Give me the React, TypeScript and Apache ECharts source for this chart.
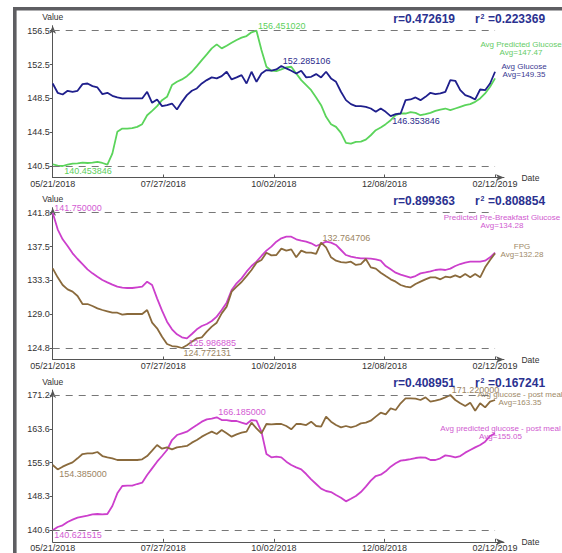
import React, { useEffect, useRef } from "react";
import * as echarts from "echarts";

// ---------- data ----------
const STEP_DAYS = 3; // one sample every 3 days, starting 05/21/2018
const dateTickLabels = ["05/21/2018", "07/27/2018", "10/02/2018", "12/08/2018", "02/12/2019"];
const dateTickDays = [0, 66.75, 133.5, 200.25, 267];

// Panel 1
const avgPredictedGlucose = [
  140.66, 140.5, 140.453846, 140.62, 140.73, 140.77, 140.85, 140.81, 140.85, 140.93,
  140.81, 140.62, 141.92, 144.49, 144.88, 144.88, 144.92, 145.08, 145.4, 146.46,
  146.97, 147.53, 148.24, 148.63, 150.02, 150.41, 150.69, 151.08, 151.6, 152.27,
  152.98, 153.65, 154.36, 154.84, 154.36, 154.68, 155.03, 155.35, 155.63, 155.82,
  156.26, 156.45102, 154.16, 152.19, 151.72, 151.68, 151.87, 152.11, 152.19, 151.4,
  150.61, 150.02, 149.42, 148.56, 147.65, 146.27, 145.4, 145.08, 144.37, 143.18,
  143.1, 143.3, 143.34, 143.58, 144.09, 144.69, 145.0, 145.4, 145.87, 146.46,
  146.66, 146.66, 146.82, 146.74, 146.46, 146.58, 146.74, 146.97, 147.13, 147.25,
  147.05, 147.25, 147.45, 147.65, 147.77, 148.04, 148.44, 149.03, 149.82, 150.81,
];
const avgGlucose = [
  150.21, 149.11, 148.91, 149.35, 149.23, 149.35, 150.13, 150.21, 149.9, 149.74,
  148.95, 149.11, 148.75, 148.56, 148.44, 148.44, 148.44, 148.44, 148.44, 149.23,
  147.92, 148.32, 147.53, 147.65, 147.84, 147.13, 148.04, 148.83, 149.35, 149.62,
  150.21, 150.61, 150.93, 150.81, 151.08, 151.6, 150.69, 150.93, 151.2, 150.21,
  151.6, 150.41, 151.4, 151.79, 151.72, 151.87, 152.285106, 151.99, 151.72, 151.4,
  151.72, 150.93, 151.0, 151.32, 150.93, 151.6, 150.81, 150.41, 149.23, 148.24,
  147.77, 147.53, 147.53, 147.45, 147.25, 146.86, 147.25, 146.86, 146.353846, 146.58,
  146.66, 148.24, 148.32, 148.56, 148.24, 148.63, 149.11, 148.95, 149.03, 149.23,
  150.61, 150.53, 149.42, 148.83, 148.63, 148.32, 149.5, 149.42, 150.21, 151.6,
];

// Panel 2
const predictedPreBreakfast = [
  141.75, 139.66, 138.41, 137.57, 136.65, 135.94, 135.31, 134.64, 134.14, 133.72,
  133.31, 133.01, 132.72, 132.47, 132.34, 132.3, 132.3, 132.39, 132.47, 133.1,
  132.68, 131.0, 129.46, 128.08, 127.12, 126.49, 126.11, 125.986885, 126.53, 127.12,
  127.53, 127.78, 128.16, 128.71, 129.54, 130.46, 132.05, 132.89, 133.51, 134.35,
  135.06, 135.61, 136.32, 136.99, 137.49, 138.12, 138.53, 138.74, 138.74, 138.41,
  138.24, 138.12, 137.91, 137.57, 137.82, 138.12, 137.99, 137.7, 137.07, 136.44,
  136.23, 136.11, 136.02, 136.02, 135.98, 135.9, 135.73, 135.06, 134.64, 134.22,
  133.97, 133.8, 133.6, 133.8, 134.14, 134.26, 134.39, 134.56, 134.64, 134.56,
  134.73, 135.06, 135.31, 135.48, 135.6, 135.6, 135.6, 135.73, 136.15, 136.73,
];
const fpg = [
  134.77, 133.64, 132.68, 132.13, 131.84, 131.3, 130.29, 130.29, 130.04, 129.75,
  129.54, 129.37, 129.2, 129.2, 128.95, 129.04, 129.04, 129.04, 129.04, 129.54,
  127.95, 127.24, 126.19, 125.27, 125.02, 124.94, 124.772131, 125.11, 125.57, 125.98,
  126.11, 126.82, 127.45, 127.95, 129.12, 129.96, 131.84, 132.47, 133.05, 133.8,
  134.56, 135.48, 135.81, 136.73, 136.4, 136.44, 137.24, 136.99, 137.15, 136.15,
  136.99, 136.73, 136.73, 136.57, 137.99, 137.4, 136.15, 135.73, 135.56, 135.48,
  135.61, 135.19, 135.31, 135.94, 134.89, 134.73, 134.22, 133.8, 133.39, 133.1,
  132.68, 132.47, 132.39, 132.8, 133.1, 133.39, 133.64, 133.64, 133.39, 133.72,
  133.64, 133.89, 133.64, 134.06, 133.64, 134.06, 133.64, 134.89, 135.81, 136.65,
];
const fpgPeakLabel = "132.764706";

// Panel 3
const glucosePostMeal = [
  155.39, 154.385, 155.01, 155.54, 155.99, 156.9, 157.87, 158.02, 158.02, 158.33,
  157.42, 157.12, 156.9, 156.52, 156.52, 156.52, 156.52, 156.52, 156.67, 157.42,
  158.63, 159.91, 159.08, 159.38, 158.93, 159.38, 159.53, 159.69, 160.44, 161.04,
  161.8, 162.4, 162.93, 162.4, 163.3, 162.55, 161.8, 162.32, 162.7, 162.93,
  164.96, 163.68, 162.55, 164.66, 164.59, 164.66, 164.66, 164.21, 163.45, 164.66,
  164.66, 164.43, 165.19, 164.21, 164.06, 166.32, 165.19, 164.43, 163.91, 164.21,
  163.91, 164.21, 164.81, 164.96, 165.41, 166.32, 167.22, 166.85, 168.2, 167.83,
  169.34, 170.47, 170.47, 170.39, 170.09, 170.69, 169.71, 169.94, 170.24, 170.69,
  171.22, 170.09, 169.34, 168.73, 169.49, 167.68, 169.34, 168.43, 169.71, 170.09,
];
const predictedPostMeal = [
  140.621515, 141.37, 141.74, 142.5, 143.03, 143.48, 143.71, 143.93, 144.23, 144.31,
  144.23, 144.31, 146.12, 148.98, 150.64, 150.71, 150.71, 151.09, 151.39, 153.13,
  154.63, 156.14, 157.42, 158.78, 161.04, 162.17, 162.55, 162.93, 163.68, 164.43,
  165.19, 165.72, 165.87, 166.185, 165.56, 165.56, 165.34, 165.34, 164.96, 164.66,
  165.56, 165.41, 162.93, 157.87, 157.12, 157.27, 157.12, 156.14, 155.39, 154.86,
  154.41, 153.35, 152.15, 151.09, 150.04, 149.51, 149.28, 148.6, 148.0, 147.17,
  147.77, 148.38, 149.28, 150.49, 151.85, 152.9, 153.2, 153.96, 155.01, 155.77,
  156.37, 156.52, 156.74, 156.97, 157.12, 157.05, 156.52, 156.52, 156.9, 157.57,
  157.42, 157.12, 157.42, 158.18, 158.78, 159.38, 159.91, 160.67, 161.95, 162.55,
];

const correlationR = ["0.472619", "0.899363", "0.408951"];
const correlationR2 = ["0.223369", "0.808854", "0.167241"];
const seriesNames = [
  ["Avg Predicted Glucose", "Avg Glucose"],
  ["Predicted Pre-Breakfast Glucose", "FPG"],
  ["Avg predicted glucose - post meal", "Avg glucose - post meal"],
];
const seriesAverages = [
  ["147.47", "149.35"],
  ["134.28", "132.28"],
  ["155.05", "163.35"],
];

// ---------- styles / layout ----------
const FONT = "'Liberation Sans', Arial, Helvetica, sans-serif";
const GREEN = "#5bd45b";
const NAVY = "#1f1f8c";
const MAGENTA = "#cc3fcc";
const BROWN = "#8a6a3c";
const AXIS = "#555555";
const R_COLOR = "#2a3190";

const GRID_LEFT = 52.7;
const GRID_RIGHT = 58;
const GRID_H = 151.8;
const GRID_TOPS = [25.7, 207.7, 390];
const X_AXIS_MAX = 272.4;

type SeriesDef = {
  name: string;
  values: number[];
  color: string;
  labelColor: string;
  legendColor: string;
  legendX: number;
  legendY: number;
  maxLabel?: string;
};

const panels: SeriesDef[][] = [
  [
    { name: seriesNames[0][0], values: avgPredictedGlucose, color: GREEN, labelColor: "#5ccf5c", legendColor: "#66cc66", legendX: 521, legendY: 44.3 },
    { name: seriesNames[0][1], values: avgGlucose, color: NAVY, labelColor: "#2b2b8c", legendColor: "#3a3a92", legendX: 524, legendY: 66.7 },
  ],
  [
    { name: seriesNames[1][0], values: predictedPreBreakfast, color: MAGENTA, labelColor: "#d35bd3", legendColor: "#d05ad0", legendX: 502, legendY: 217.7 },
    { name: seriesNames[1][1], values: fpg, color: BROWN, labelColor: "#9c8563", legendColor: "#a08a68", legendX: 522, legendY: 246.7, maxLabel: fpgPeakLabel },
  ],
  [
    { name: seriesNames[2][0], values: predictedPostMeal, color: MAGENTA, labelColor: "#d35bd3", legendColor: "#d05ad0", legendX: 500.5, legendY: 428.3 },
    { name: seriesNames[2][1], values: glucosePostMeal, color: BROWN, labelColor: "#9c8563", legendColor: "#a08a68", legendX: 520, legendY: 394 },
  ],
];

function toPairs(vals: number[]) {
  return vals.map((v, i) => [i * STEP_DAYS, v]);
}

function buildOption() {
  const grid: any[] = [];
  const xAxis: any[] = [];
  const yAxis: any[] = [];
  const series: any[] = [];
  const graphic: any[] = [];

  // frame of the screenshot
  graphic.push({ type: "rect", shape: { x: 13, y: 7, width: 549, height: 3.6 }, style: { fill: "#5e5e62" }, silent: true });
  graphic.push({ type: "rect", shape: { x: 13, y: 7, width: 3.6, height: 546 }, style: { fill: "#5e5e62" }, silent: true });

  panels.forEach((defs, p) => {
    const all = defs.flatMap((d) => d.values);
    const vMin = Math.min(...all);
    const vMax = Math.max(...all);
    const range = vMax - vMin;
    const ticks = [0, 1, 2, 3, 4].map((k) => vMin + (range * k) / 4);
    const top = GRID_TOPS[p];

    grid.push({ left: GRID_LEFT, right: GRID_RIGHT, top, height: GRID_H, outerBoundsMode: "none", containLabel: false });

    xAxis.push({
      type: "value",
      gridIndex: p,
      min: 0,
      max: X_AXIS_MAX,
      name: "Date",
      nameLocation: "end",
      nameGap: 5,
      nameTextStyle: { fontSize: 8.5, color: "#333", fontFamily: FONT },
      axisLine: { show: true, onZero: false, symbol: ["none", "arrow"], symbolSize: [5, 8], lineStyle: { color: AXIS, width: 1 } },
      axisTick: { show: true, inside: true, length: 3, customValues: dateTickDays, lineStyle: { color: AXIS } },
      axisLabel: {
        show: true,
        customValues: dateTickDays,
        margin: 2,
        fontSize: 9,
        color: "#333",
        fontFamily: FONT,
        formatter: (v: number) => {
          let best = 0;
          dateTickDays.forEach((d, i) => {
            if (Math.abs(d - v) < Math.abs(dateTickDays[best] - v)) best = i;
          });
          return dateTickLabels[best];
        },
      },
      splitLine: { show: false },
    });

    yAxis.push({
      type: "value",
      gridIndex: p,
      min: vMin - (range * 11.5) / 135.3,
      max: vMax + (range * 5) / 135.3,
      name: "Value",
      nameLocation: "end",
      nameGap: 4,
      nameTextStyle: { fontSize: 8.5, color: "#333", fontFamily: FONT, align: "center" },
      axisLine: { show: true, onZero: false, symbol: ["none", "arrow"], symbolSize: [5, 8], lineStyle: { color: AXIS, width: 1 } },
      axisTick: { show: true, inside: false, length: 3, customValues: ticks, lineStyle: { color: AXIS } },
      axisLabel: {
        show: true,
        customValues: ticks,
        margin: 3,
        fontSize: 9,
        color: "#333",
        fontFamily: FONT,
        formatter: (v: number) => v.toFixed(1),
      },
      splitLine: { show: false },
    });

    defs.forEach((d, si) => {
      const maxV = Math.max(...d.values);
      const minV = Math.min(...d.values);
      const maxI = d.values.indexOf(maxV);
      const minI = d.values.indexOf(minV);
      const s: any = {
        type: "line",
        name: d.name,
        xAxisIndex: p,
        yAxisIndex: p,
        data: toPairs(d.values),
        showSymbol: false,
        symbol: "none",
        lineStyle: { color: d.color, width: 1.8 },
        itemStyle: { color: d.color },
        z: 2 + si,
        markPoint: {
          symbol: "circle",
          symbolSize: 1,
          silent: true,
          itemStyle: { color: "rgba(0,0,0,0)" },
          label: { show: true, position: "right", distance: 1, fontSize: 9, color: d.labelColor, fontFamily: FONT },
          data: [
            { coord: [maxI * STEP_DAYS, maxV], value: maxV, label: { offset: [0, -5], formatter: d.maxLabel ?? maxV.toFixed(6) } },
            { coord: [minI * STEP_DAYS, minV], value: minV, label: { offset: [0, 5], formatter: minV.toFixed(6) } },
          ],
        },
      };
      if (si === 0) {
        s.markLine = {
          silent: true,
          symbol: ["none", "none"],
          label: { show: false },
          lineStyle: { color: "#777", width: 1, type: [7, 6] },
          data: [
            [{ coord: [0, vMax] }, { coord: [dateTickDays[4], vMax] }],
            [{ coord: [0, vMin] }, { coord: [dateTickDays[4], vMin] }],
          ],
        };
      }
      series.push(s);

      // legend-like text for this series
      graphic.push({
        type: "text",
        x: d.legendX,
        y: d.legendY,
        silent: true,
        style: { text: d.name, fill: d.legendColor, font: `8px ${FONT}`, textAlign: "center", align: "center", textVerticalAlign: "middle", verticalAlign: "middle" },
      });
      graphic.push({
        type: "text",
        x: d.legendX,
        y: d.legendY + 8,
        silent: true,
        style: { text: `Avg=${seriesAverages[p][si]}`, fill: d.legendColor, font: `8px ${FONT}`, textAlign: "center", align: "center", textVerticalAlign: "middle", verticalAlign: "middle" },
      });
    });

    // correlation texts
    const ry = top - 6.7;
    graphic.push({
      type: "text", x: 393.3, y: ry, silent: true,
      style: { text: `r=${correlationR[p]}`, fill: R_COLOR, font: `bold 12px ${FONT}`, textAlign: "left", align: "left", textVerticalAlign: "middle", verticalAlign: "middle" },
    });
    graphic.push({
      type: "text", x: 475, y: ry, silent: true,
      style: { text: "r", fill: R_COLOR, font: `bold 12px ${FONT}`, textAlign: "left", align: "left", textVerticalAlign: "middle", verticalAlign: "middle" },
    });
    graphic.push({
      type: "text", x: 480.5, y: ry - 2.5, silent: true,
      style: { text: "2", fill: R_COLOR, font: `bold 7px ${FONT}`, textAlign: "left", align: "left", textVerticalAlign: "middle", verticalAlign: "middle" },
    });
    graphic.push({
      type: "text", x: 488, y: ry, silent: true,
      style: { text: `=${correlationR2[p]}`, fill: R_COLOR, font: `bold 12px ${FONT}`, textAlign: "left", align: "left", textVerticalAlign: "middle", verticalAlign: "middle" },
    });
  });

  return {
    animation: false,
    backgroundColor: "#ffffff",
    textStyle: { fontFamily: FONT },
    grid,
    xAxis,
    yAxis,
    series,
    graphic: { elements: graphic },
  };
}

export default function App() {
  const ref = useRef<HTMLDivElement>(null);
  useEffect(() => {
    if (!ref.current) return;
    const chart = echarts.init(ref.current, undefined, { renderer: "svg" });
    chart.setOption(buildOption() as any);
    return () => chart.dispose();
  }, []);
  return (
    <div
      ref={ref}
      style={{ position: "fixed", left: 0, top: 0, width: 562, height: 553, background: "#fff" }}
    />
  );
}
